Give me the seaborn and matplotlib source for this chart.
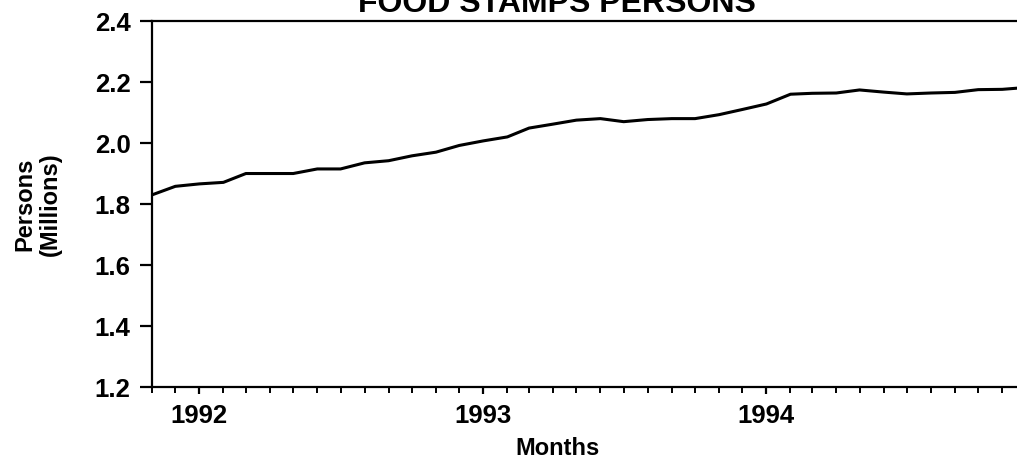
import pandas as pd
import numpy as np
import seaborn as sns
import matplotlib.pyplot as plt
import matplotlib.dates as mdates

####

# monthly series, Nov 1991 - Dec 1994 (millions of persons)
start_month = "1991-11-01"
persons = [
    1.830, 1.858, 1.866, 1.871, 1.900, 1.900, 1.900, 1.915, 1.915, 1.935,
    1.942, 1.958, 1.970, 1.992, 2.007, 2.020, 2.049, 2.062, 2.075, 2.080,
    2.070, 2.077, 2.080, 2.080, 2.093, 2.110, 2.128, 2.160, 2.163, 2.164,
    2.174, 2.167, 2.161, 2.164, 2.166, 2.175, 2.176, 2.182,
]
year_labels = ["1992", "1993", "1994"]
y_ticks = [1.2, 1.4, 1.6, 1.8, 2.0, 2.2, 2.4]

months = pd.date_range(start_month, periods=len(persons), freq="MS")
df = pd.DataFrame({"month": months, "persons": persons})

sns.set_style("ticks")
plt.rcParams["font.family"] = ["Liberation Sans", "DejaVu Sans"]
plt.rcParams["text.color"] = "black"
plt.rcParams["xtick.color"] = "black"
plt.rcParams["ytick.color"] = "black"

fig = plt.figure(figsize=(10.17, 4.62), dpi=100)
ax = fig.add_axes([0.1495, 0.1623, 0.8505, 0.7922])

sns.lineplot(data=df, x="month", y="persons", ax=ax, color="black", linewidth=2.2)

ax.set_xlim(pd.Timestamp("1991-11-01"), pd.Timestamp("1994-11-20"))
ax.set_ylim(1.2, 2.4)
ax.set_yticks(y_ticks)
ax.set_yticklabels([f"{v:.1f}" for v in y_ticks], fontweight="bold")

year_ticks = [pd.Timestamp(f"{y}-01-01") for y in year_labels]
ax.set_xticks(year_ticks)
ax.set_xticklabels(year_labels, fontweight="bold")
ax.xaxis.set_minor_locator(mdates.MonthLocator())

ax.tick_params(axis="y", direction="out", length=8.5, width=1.6, pad=7, labelsize=18.5)
ax.tick_params(axis="x", which="major", direction="out", length=5, width=1.6, pad=7, labelsize=18.5)
ax.tick_params(axis="x", which="minor", direction="out", length=4, width=1.4)

for side in ["left", "bottom", "top"]:
    ax.spines[side].set_linewidth(1.6)
    ax.spines[side].set_color("black")
ax.spines["right"].set_visible(False)

ax.set_xlabel("")
ax.set_ylabel("")

# labels positioned as in the scanned original
fig.text(0.548, 0.974, "FOOD STAMPS PERSONS", ha="center", va="baseline",
         fontsize=23, fontweight="bold")
fig.text(0.548, 0.030, "Months", ha="center", va="center", fontsize=17, fontweight="bold")
fig.text(0.037, 0.558, "Persons\n(Millions)", ha="center", va="center", rotation=90,
         fontsize=17, fontweight="bold", multialignment="center", linespacing=1.15)

fig.savefig("out.png", dpi=100)
